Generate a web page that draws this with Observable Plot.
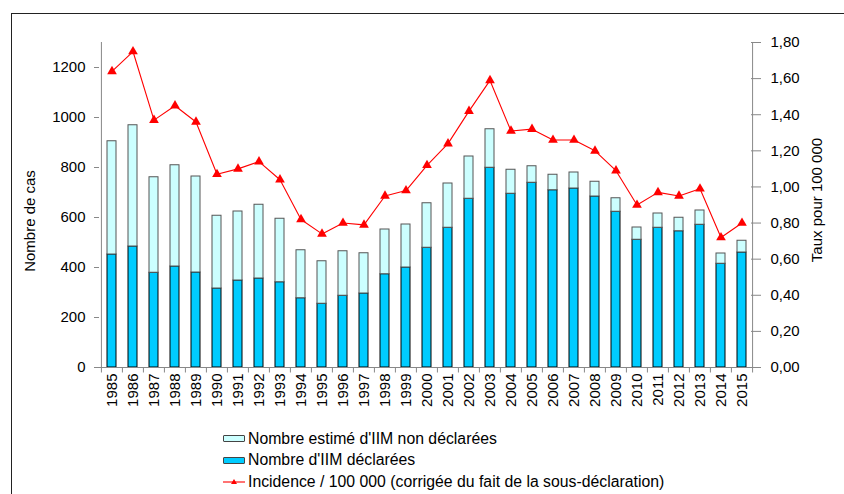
<!DOCTYPE html>
<html>
<head>
<meta charset="utf-8">
<script src="https://cdn.jsdelivr.net/npm/d3@7"></script>
<script src="https://cdn.jsdelivr.net/npm/@observablehq/plot@0.6"></script>
<style>
  body { margin: 0; background: #fff; font-family: "Liberation Sans", Arial, sans-serif; }
  #wrap { position: relative; width: 844px; height: 494px; overflow: hidden; }
  #frame { position: absolute; left: 11px; top: 13px; width: 900px; height: 600px; border-left: 1px solid #222; border-top: 1px solid #222; }
  #chart { position: absolute; left: 0; top: 0; }
  #legend { position: absolute; left: 223px; top: 428px; font-size: 15.8px; color: #000; }
  .row { height: 21.5px; display: flex; align-items: center; white-space: nowrap; }
  .sw { width: 20px; height: 5px; border: 1px solid #444; border-radius: 1px; margin-right: 3px; }
  .ln { width: 22px; height: 10px; margin-right: 3px; }
</style>
</head>
<body>
<div id="wrap">
  <div id="frame"></div>
  <div id="chart"></div>
  <div id="legend"></div>
</div>
<script>
const years = [1985,1986,1987,1988,1989,1990,1991,1992,1993,1994,1995,1996,1997,1998,1999,2000,2001,2002,2003,2004,2005,2006,2007,2008,2009,2010,2011,2012,2013,2014,2015];
const declared = [452,484,379,404,380,316,348,356,341,277,255,287,296,373,400,479,559,675,799,695,739,709,716,684,623,511,559,545,571,415,460];
const nonDeclared = [453,485,382,405,384,291,276,295,254,192,170,178,161,179,172,178,177,169,154,96,66,62,64,59,54,49,57,54,57,41,47];
const incidence = [1.64,1.75,1.37,1.45,1.36,1.07,1.10,1.14,1.04,0.82,0.74,0.80,0.79,0.95,0.98,1.12,1.24,1.42,1.59,1.31,1.32,1.26,1.26,1.20,1.09,0.90,0.97,0.95,0.99,0.72,0.80];
const leftTicks = [0,200,400,600,800,1000,1200];
const rightTicks = [0,0.2,0.4,0.6,0.8,1.0,1.2,1.4,1.6,1.8];
const seriesNames = ["Nombre estimé d'IIM non déclarées", "Nombre d'IIM déclarées", "Incidence / 100 000 (corrigée du fait de la sous-déclaration)"];

const rows = years.map((y, i) => ({year: String(y), declared: declared[i], nonDeclared: nonDeclared[i], incidence: incidence[i]}));
const yMax = 1300, rMax = 1.8, k = yMax / rMax;

const W = 844, H = 420, mL = 99, mR = 89;
const step = (W - mL - mR) / years.length;

const chart = Plot.plot({
  width: W, height: H,
  marginLeft: mL, marginRight: mR, marginTop: 42, marginBottom: 53,
  style: {fontFamily: '"Liberation Sans", Arial, sans-serif', fontSize: "15px", color: "#000", background: "transparent", overflow: "visible"},
  x: {type: "band", domain: rows.map(d => d.year), paddingInner: 0.57, paddingOuter: 0.285, axis: null},
  y: {domain: [0, yMax], axis: null},
  marks: [
    Plot.barY(rows, {x: "year", y1: 0, y2: "declared", fill: "#00CCFF", stroke: "#000", strokeWidth: 1}),
    Plot.barY(rows, {x: "year", y1: "declared", y2: d => d.declared + d.nonDeclared, fill: "#CCFFFF", stroke: "#555", strokeWidth: 1}),
    // axis lines
    Plot.ruleY([0], {stroke: "#888", strokeWidth: 1}),
    Plot.ruleX([rows[0].year], {y1: 0, y2: yMax, dx: -step / 2, stroke: "#888"}),
    Plot.ruleX([rows[rows.length - 1].year], {y1: 0, y2: yMax, dx: step / 2, stroke: "#888"}),
    // x boundary ticks
    Plot.ruleX(rows, {x: "year", y1: 0, y2: -22, dx: -step / 2, stroke: "#888"}),
    Plot.ruleX([rows[rows.length - 1].year], {y1: 0, y2: -22, dx: step / 2, stroke: "#888"}),
    Plot.axisX({fontSize: 15, tickSize: 0, tickPadding: 6, tickRotate: -90, label: null}),
    // left axis
    Plot.axisY(leftTicks, {anchor: "left", tickSize: 5, tickPadding: 9, stroke: "#888", fontSize: 15, label: null, tickFormat: d => String(d)}),
    Plot.text(["Nombre de cas"], {frameAnchor: "left", textAnchor: "middle", dx: -69, dy: 16, rotate: -90, fontSize: 15}),
    // right axis
    Plot.axisY(rightTicks.map(t => t * k), {anchor: "right", tickSize: 10, dx: -5, stroke: "#888", label: null, tickFormat: () => ""}),
    Plot.axisY(rightTicks.map(t => t * k), {anchor: "right", tickSize: 0, tickPadding: 15, fontSize: 15, label: null, tickFormat: d => (d / k).toFixed(2).replace(".", ",")}),
    Plot.text(["Taux pour 100 000"], {frameAnchor: "right", textAnchor: "middle", dx: 62, dy: -5, rotate: -90, fontSize: 15}),
    // incidence line
    Plot.line(rows, {x: "year", y: d => d.incidence * k, stroke: "#FF0000", strokeWidth: 1.1}),
    Plot.dot(rows, {x: "year", y: d => d.incidence * k, symbol: "triangle", r: 3.6, fill: "#FF0000", stroke: "none"})
  ]
});
document.getElementById("chart").appendChild(chart);

const legend = document.getElementById("legend");
const styles = [
  {fill: "#CCFFFF", kind: "sw"},
  {fill: "#00CCFF", kind: "sw"},
  {kind: "ln"}
];
seriesNames.forEach((name, i) => {
  const row = document.createElement("div");
  row.className = "row";
  let sw;
  if (styles[i].kind === "sw") {
    sw = document.createElement("div");
    sw.className = "sw";
    sw.style.background = styles[i].fill;
  } else {
    sw = document.createElementNS("http://www.w3.org/2000/svg", "svg");
    sw.setAttribute("class", "ln");
    sw.setAttribute("width", 22); sw.setAttribute("height", 10);
    sw.innerHTML = '<line x1="0" y1="5" x2="22" y2="5" stroke="#FF0000" stroke-width="1.1"/><path d="M11,2 L14,7 L8,7 Z" fill="#FF0000"/>';
  }
  const t = document.createElement("span");
  t.textContent = name;
  row.appendChild(sw); row.appendChild(t);
  legend.appendChild(row);
});
</script>
</body>
</html>
